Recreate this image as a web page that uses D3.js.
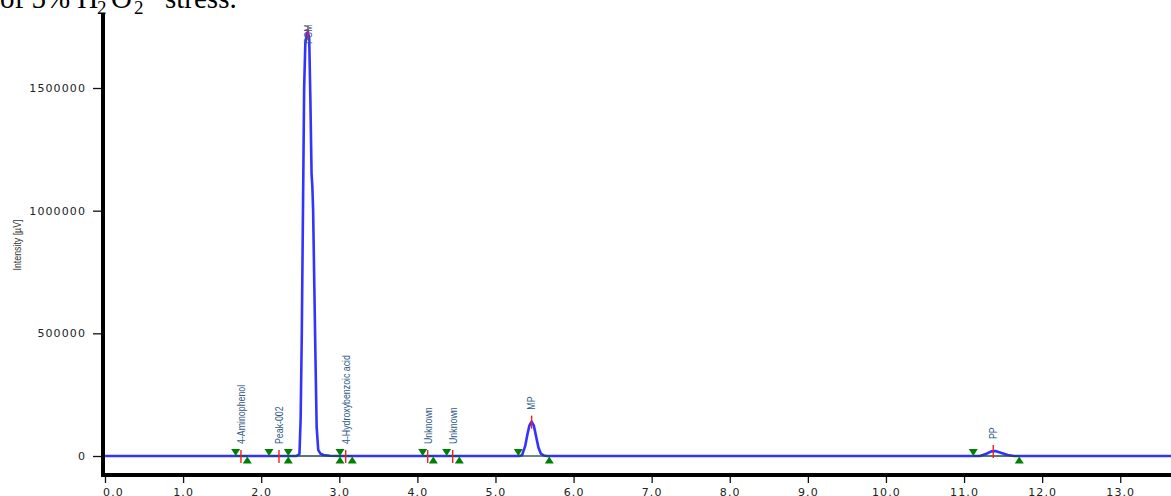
<!DOCTYPE html>
<html>
<head>
    <meta charset="utf-8">
    <title>Chromatogram</title>
    <style>
        body { margin: 0; background: #fff; }
        svg { display: block; }
        .peaklab { font-family: "Liberation Sans Narrow", "Arial Narrow", "Liberation Sans", sans-serif; font-size: 11px; fill: #30588a; }
        .tick text { font-family: "DejaVu Sans", Verdana, sans-serif; font-size: 11px; letter-spacing: 1.1px; fill: #222; }
    </style>
    <script src="https://d3js.org/d3.v7.min.js"></script>
</head>
<body>
<svg width="1171" height="496"></svg>
<script>
    // retention time (min) and intensity (uV) of the trace
    var traceTime = [0, 2.45, 2.49, 2.505, 2.52, 2.535, 2.55, 2.565, 2.585, 2.60, 2.615, 2.63, 2.645, 2.655, 2.665, 2.68, 2.695, 2.71, 2.73, 2.76, 2.80, 2.88, 3.0,
                     5.30, 5.34, 5.38, 5.41, 5.435, 5.463, 5.49, 5.52, 5.55, 5.58, 5.62, 5.66,
                     11.20, 11.28, 11.35, 11.40, 11.48, 11.56, 11.64, 13.65];
    var traceValue = [0, 0, 8000, 150000, 500000, 1000000, 1500000, 1680000, 1725000, 1728000, 1700000, 1450000, 1150000, 1100000, 1000000, 700000, 400000, 120000, 25000, 9000, 4000, 1000, 0,
                      0, 3000, 40000, 90000, 125000, 140000, 125000, 80000, 35000, 10000, 2000, 0,
                      0, 8000, 19000, 20000, 12000, 4000, 0, 0];

    // integrated peaks
    var peakNames  = ["4-Aminophenol", "Peak-002", "PCM", "4-Hydroxybenzoic acid", "Unknown", "Unknown", "MP", "PP"];
    var peakStart  = [1.673, 2.10, 2.347, 3.009, 4.068, 4.375, 5.292, 11.118];
    var peakApex   = [1.741, 2.228, 2.599, 3.082, 4.132, 4.452, 5.463, 11.374];
    var peakEnd    = [1.822, 2.347, 3.009, 3.166, 4.204, 4.537, 5.689, 11.707];
    var peakHeight = [0, 0, 1728000, 0, 0, 0, 140000, 20000];

    var xMajor = d3.range(0, 14, 1);
    var xMinor = d3.range(0, 13.7, 0.2);
    var yMajor = [0, 500000, 1000000, 1500000];
    var yMinor = d3.range(100000, 1800001, 100000);

    var svg = d3.select("svg");

    var x = d3.scaleLinear().domain([0, 13.65]).range([105, 1171]);
    var y = d3.scaleLinear().domain([0, 1500000]).range([456, 88]);

    // caption fragment cut at the top of the page
    var cap = svg.append("text")
        .attr("y", 8)
        .attr("font-family", "'Liberation Serif', 'Times New Roman', serif")
        .attr("font-size", 29)
        .attr("fill", "#000");
    cap.append("tspan").attr("x", 0).text("of 5% H");
    cap.append("tspan").attr("x", 97).attr("dy", 6).attr("font-size", 19).text("2");
    cap.append("tspan").attr("x", 111).attr("dy", -6).text("O");
    cap.append("tspan").attr("x", 134).attr("dy", 6).attr("font-size", 19).text("2");
    cap.append("tspan").attr("x", 165).attr("dy", -6).text("stress.");

    // x axis
    var gx = svg.append("g").attr("transform", "translate(0,477)");
    gx.call(d3.axisBottom(x).tickValues(xMinor).tickSize(3).tickFormat(""));
    gx.call(d3.axisBottom(x).tickValues(xMajor).tickSize(6).tickPadding(5).tickFormat(d3.format(".1f")));
    gx.selectAll(".domain").remove();
    gx.selectAll(".tick line").attr("stroke", "#111").attr("stroke-width", 1.3);
    gx.selectAll(".tick text").filter(d => d === 0).attr("dx", 8);

    // y axis
    var gy = svg.append("g").attr("transform", "translate(101,0)");
    gy.call(d3.axisLeft(y).tickValues(yMinor).tickSize(2).tickFormat(""));
    gy.call(d3.axisLeft(y).tickValues(yMajor).tickSize(8).tickPadding(7).tickFormat(d3.format("d")));
    gy.selectAll(".domain").remove();
    gy.selectAll(".tick line").attr("stroke", "#111").attr("stroke-width", 1.3);

    // thick axis lines
    svg.append("line").attr("x1", 103).attr("x2", 103).attr("y1", 14).attr("y2", 477)
        .attr("stroke", "#000").attr("stroke-width", 4);
    svg.append("line").attr("x1", 101).attr("x2", 1171).attr("y1", 475).attr("y2", 475)
        .attr("stroke", "#000").attr("stroke-width", 4);

    svg.append("text")
        .attr("transform", "translate(21,245) rotate(-90) scale(0.8,1)")
        .attr("text-anchor", "middle")
        .attr("class", "peaklab")
        .style("fill", "#333")
        .text("Intensity [µV]");

    // trace
    var line = d3.line()
        .x((d, i) => x(traceTime[i]))
        .y((d, i) => y(traceValue[i]));
    svg.append("path")
        .attr("d", line(traceTime))
        .attr("fill", "none")
        .attr("stroke", "#3333ff")
        .attr("stroke-width", 2.6)
        .attr("stroke-linejoin", "round");

    // peak baselines
    var peaks = peakNames.map((n, i) => ({name: n, s: peakStart[i], a: peakApex[i], e: peakEnd[i], h: peakHeight[i]}));
    svg.selectAll(".pbase").data(peaks).enter().append("line")
        .attr("x1", d => x(d.s)).attr("x2", d => x(d.e))
        .attr("y1", y(0)).attr("y2", y(0))
        .attr("stroke", "#1d4a4a").attr("stroke-width", 1.3);

    // start / end markers
    svg.selectAll(".pstart").data(peaks).enter().append("path")
        .attr("transform", d => "translate(" + x(d.s) + "," + y(0) + ")")
        .attr("d", "M-4.5,-7L4.5,-7L0,0Z")
        .attr("fill", "#008000");
    svg.selectAll(".pend").data(peaks).enter().append("path")
        .attr("transform", d => "translate(" + x(d.e) + "," + (y(0) + 0.5) + ")")
        .attr("d", "M-4.5,7L4.5,7L0,0Z")
        .attr("fill", "#008000");

    // apex ticks
    svg.selectAll(".papex").data(peaks).enter().append("line")
        .attr("x1", d => x(d.a)).attr("x2", d => x(d.a))
        .attr("y1", d => y(d.h) - 6).attr("y2", d => y(d.h) + 7)
        .attr("stroke", "#ff1a1a").attr("stroke-width", 1.4);

    // peak names, squeezed to look like a narrow face
    svg.selectAll(".plab").data(peaks).enter().append("text")
        .attr("class", "peaklab")
        .attr("transform", d => "translate(" + x(d.a) + "," + Math.max(y(d.h) - 12, 44) + ") rotate(-90) scale(0.8,1)")
        .attr("dy", "0.35em")
        .text(d => d.name);
</script>
</body>
</html>
